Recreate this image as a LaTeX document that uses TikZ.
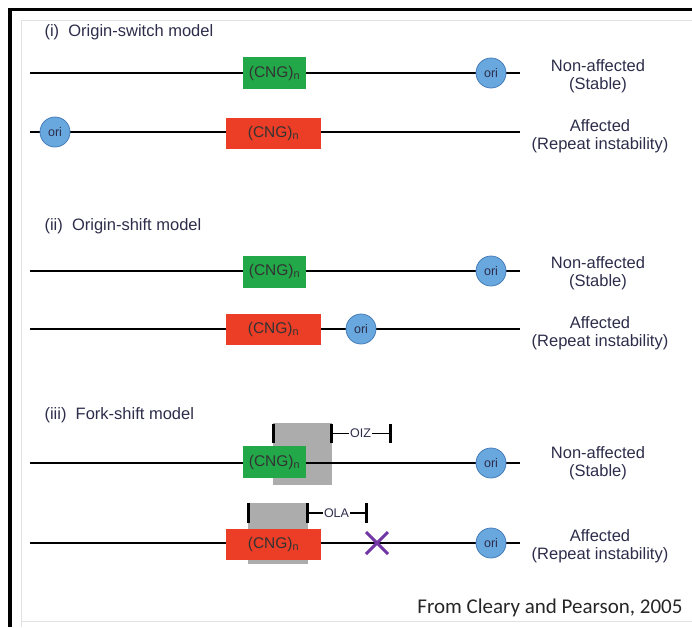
\documentclass[tikz,border=0pt]{standalone}
\usepackage{fontspec}
\setmainfont{Liberation Sans}
\newfontfamily\credfont{Carlito}
\definecolor{cnggreen}{RGB}{34,168,72}
\definecolor{cngred}{RGB}{236,62,38}
\definecolor{oriblue}{RGB}{105,168,222}
\definecolor{oriedge}{RGB}{70,125,185}
\definecolor{txtcol}{RGB}{45,45,75}
\definecolor{forkgrey}{RGB}{172,172,172}
\definecolor{xpurple}{RGB}{115,55,165}
\definecolor{framegrey}{RGB}{225,225,225}
\begin{document}
\begin{tikzpicture}[x=1pt,y=-1pt,
  dna/.style={line width=2pt, black},
  cngg/.style={fill=cnggreen, minimum width=63pt, minimum height=32pt, inner sep=0pt, font=\fontsize{15.5}{16}\selectfont, text=black!80},
  cngr/.style={fill=cngred, minimum width=95pt, minimum height=31pt, inner sep=0pt, font=\fontsize{15.5}{16}\selectfont, text=black!80},
  ori/.style={circle, fill=oriblue, draw=oriedge, line width=0.8pt, minimum size=30pt, inner sep=0pt, font=\fontsize{12.5}{13}\selectfont, text=txtcol},
  lab/.style={align=center, font=\fontsize{16.5}{17.5}\selectfont, text=txtcol},
  ttl/.style={anchor=west, font=\fontsize{16.5}{17.5}\selectfont, text=txtcol},
  fork/.style={fill=forkgrey, inner sep=0pt},
  bar/.style={line width=3pt, black},
  zone/.style={line width=1.2pt, black},
  zlab/.style={fill=white, inner sep=1pt, font=\fontsize{12.5}{13}\selectfont, text=txtcol}
]
\useasboundingbox (0,0) rectangle (692,627);
% frame
\draw[framegrey, line width=1pt] (21,627) -- (21,20) -- (692,20);
\draw[framegrey, line width=1pt] (21,621) -- (692,621);
\draw[black, line width=3.5pt] (10,627) -- (10,9.5) -- (692,9.5);

% ---------- (i) Origin-switch model
\node[ttl] (t1) at (41,32) {(i)\ \ Origin-switch model};
\coordinate (a1) at (30,73); \coordinate (b1) at (520,73);
\draw[dna] (a1) -- (b1);
\node[cngg] (g1) at (274.5,73) {(CNG)\textsubscript{n}};
\node[ori] (o1) at (491,73) {ori};
\node[lab] (l1) at (598,76) {Non-affected\\(Stable)};

\coordinate (a2) at (30,132); \coordinate (b2) at (520,132);
\draw[dna] (a2) -- (b2);
\node[cngr] (r2) at (273.5,133.5) {(CNG)\textsubscript{n}};
\node[ori] (o2) at (55,132) {ori};
\node[lab] (l2) at (600,136) {Affected\\(Repeat instability)};

% ---------- (ii) Origin-shift model
\node[ttl] (t2) at (41,226) {(ii)\ \ Origin-shift model};
\coordinate (a3) at (30,271); \coordinate (b3) at (520,271);
\draw[dna] (a3) -- (b3);
\node[cngg] (g3) at (274.5,271.5) {(CNG)\textsubscript{n}};
\node[ori] (o3) at (491,271) {ori};
\node[lab] (l3) at (598,273) {Non-affected\\(Stable)};

\coordinate (a4) at (30,329); \coordinate (b4) at (520,329);
\draw[dna] (a4) -- (b4);
\node[cngr] (r4) at (273.5,329.5) {(CNG)\textsubscript{n}};
\node[ori] (o4) at (361,329) {ori};
\node[lab] (l4) at (600,333) {Affected\\(Repeat instability)};

% ---------- (iii) Fork-shift model
\node[ttl] (t3) at (41,415) {(iii)\ \ Fork-shift model};
\node[fork, minimum width=59pt, minimum height=62pt] (f5) at (302.5,454) {};
\coordinate (a5) at (30,463); \coordinate (b5) at (520,463);
\draw[dna] (a5) -- (b5);
\node[cngg] (g5) at (274.5,462) {(CNG)\textsubscript{n}};
\node[ori] (o5) at (491,463) {ori};
\node[lab] (l5) at (598,463) {Non-affected\\(Stable)};
\coordinate (p5a) at (273,424); \coordinate (p5b) at (273,443);
\coordinate (q5a) at (331,424); \coordinate (q5b) at (331,443);
\coordinate (s5a) at (390,424); \coordinate (s5b) at (390,443);
\draw[bar] (p5a) -- (p5b);
\draw[bar] (q5a) -- (q5b);
\draw[bar] (s5a) -- (s5b);
\coordinate (m5a) at (331,433.5); \coordinate (m5b) at (390,433.5);
\draw[zone] (m5a) -- node[zlab] (z5) {OIZ} (m5b);

\node[fork, minimum width=60pt, minimum height=61pt] (f6) at (277.5,533.5) {};
\coordinate (a6) at (30,543); \coordinate (b6) at (520,543);
\draw[dna] (a6) -- (b6);
\node[cngr] (r6) at (273.5,544) {(CNG)\textsubscript{n}};
\node[ori] (o6) at (491,543) {ori};
\node[lab] (l6) at (600,546) {Affected\\(Repeat instability)};
\coordinate (p6a) at (248,503); \coordinate (p6b) at (248,523);
\coordinate (q6a) at (307,503); \coordinate (q6b) at (307,523);
\coordinate (s6a) at (366,503); \coordinate (s6b) at (366,523);
\draw[bar] (p6a) -- (p6b);
\draw[bar] (q6a) -- (q6b);
\draw[bar] (s6a) -- (s6b);
\coordinate (m6a) at (307,513); \coordinate (m6b) at (366,513);
\draw[zone] (m6a) -- node[zlab] (z6) {OLA} (m6b);
\coordinate (x6) at (377,543);
\draw[xpurple, line width=3pt] ([shift={(-11,-11)}]x6) -- ([shift={(11,11)}]x6)
  ([shift={(-11,11)}]x6) -- ([shift={(11,-11)}]x6);

% credit
\node[anchor=east, font=\credfont\fontsize{21}{23}\selectfont, text=black!85] (cr) at (686,608) {From Cleary and Pearson, 2005};
\end{tikzpicture}
\end{document}
